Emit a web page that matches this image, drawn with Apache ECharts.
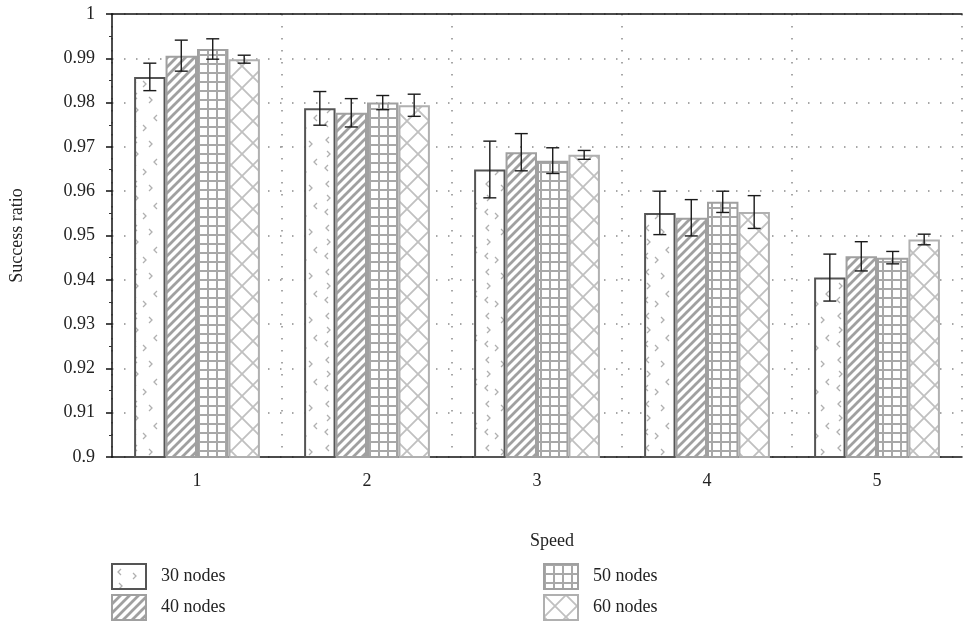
<!DOCTYPE html>
<html>
<head>
<meta charset="utf-8">
<script src="https://cdn.jsdelivr.net/npm/echarts@6/dist/echarts.min.js"></script>
<style>
  html, body { margin: 0; padding: 0; background: #fff; }
  #chart { width: 965px; height: 631px; }
</style>
</head>
<body>
<div id="chart"></div>
<script>
// Speed levels on the x axis
const categories = ['1', '2', '3', '4', '5'];
const seriesNames = ['30 nodes', '40 nodes', '50 nodes', '60 nodes'];

// Mean success ratio per speed level
const ratio30 = [0.9858, 0.9787, 0.9649, 0.9551, 0.9405];
const ratio40 = [0.9906, 0.9777, 0.9688, 0.9540, 0.9453];
const ratio50 = [0.9921, 0.9800, 0.9669, 0.9576, 0.9450];
const ratio60 = [0.9898, 0.9794, 0.9682, 0.9553, 0.9491];

// Half-width of the error bars
const err30 = [0.0031, 0.0038, 0.0064, 0.0049, 0.0053];
const err40 = [0.0035, 0.0032, 0.0042, 0.0041, 0.0033];
const err50 = [0.0023, 0.0016, 0.0029, 0.0024, 0.0014];
const err60 = [0.0009, 0.0025, 0.0010, 0.0037, 0.0012];

const yTicks = { min: 0.9, max: 1, step: 0.01 };

const FONT = '"Liberation Serif", "DejaVu Serif", serif';
const FS = 18;
const CAT_GAP = 0.26;

function tile(w, h, draw) {
  const c = document.createElement('canvas');
  c.width = w; c.height = h;
  const ctx = c.getContext('2d');
  ctx.fillStyle = '#fff';
  ctx.fillRect(0, 0, w, h);
  draw(ctx);
  return { image: c, repeat: 'repeat' };
}

// scattered small chevrons
const pat30 = tile(32, 44, ctx => {
  ctx.strokeStyle = '#b0b0b0';
  ctx.lineWidth = 1.3;
  const chev = (x, y, dir) => {
    ctx.beginPath();
    ctx.moveTo(x + 3 * dir, y - 3);
    ctx.lineTo(x, y);
    ctx.lineTo(x + 3 * dir, y + 3);
    ctx.stroke();
  };
  chev(6, 8, 1); chev(24, 12, -1);
  chev(10, 22, -1); chev(26, 30, 1);
  chev(5, 36, 1); chev(18, 40, -1);
});

// diagonal hatch
const pat40 = tile(9, 9, ctx => {
  ctx.strokeStyle = '#a0a0a0';
  ctx.lineWidth = 2.8;
  ctx.beginPath();
  ctx.moveTo(-2, 11); ctx.lineTo(11, -2);
  ctx.moveTo(-2, 2); ctx.lineTo(2, -2);
  ctx.moveTo(7, 11); ctx.lineTo(11, 7);
  ctx.stroke();
});

// square grid
const pat50 = tile(9, 9, ctx => {
  ctx.fillStyle = '#a8a8a8';
  ctx.fillRect(0, 0, 9, 2);
  ctx.fillRect(0, 0, 2, 9);
});

// diamond lattice
const pat60 = tile(22, 22, ctx => {
  ctx.strokeStyle = '#c0c0c0';
  ctx.lineWidth = 1.8;
  ctx.beginPath();
  ctx.moveTo(0, 0); ctx.lineTo(22, 22);
  ctx.moveTo(22, 0); ctx.lineTo(0, 22);
  ctx.stroke();
});

const means = [ratio30, ratio40, ratio50, ratio60];
const errs = [err30, err40, err50, err60];
const fills = [pat30, pat40, pat50, pat60];
const borders = ['#555555', '#a0a0a0', '#a0a0a0', '#b0b0b0'];

const barSeries = seriesNames.map((name, k) => ({
  name: name,
  type: 'bar',
  data: means[k],
  barGap: '0%',
  barCategoryGap: (CAT_GAP * 100) + '%',
  itemStyle: { color: fills[k], borderColor: borders[k], borderWidth: 2 },
  z: 2
}));

const errSeries = seriesNames.map((name, k) => ({
  name: 'err ' + name,
  type: 'custom',
  z: 5,
  data: categories.map((c, i) => [i, means[k][i] + errs[k][i], means[k][i] - errs[k][i]]),
  encode: { x: 0, y: [1, 2] },
  renderItem: (params, api) => {
    const band = api.size([1, 0])[0];
    const groupW = band * (1 - CAT_GAP);
    const barW = groupW / seriesNames.length;
    const off = -groupW / 2 + barW * (k + 0.5);
    const top = api.coord([api.value(0), api.value(1)]);
    const bot = api.coord([api.value(0), api.value(2)]);
    const x = top[0] + off;
    const cap = 6.5;
    const style = { stroke: '#1a1a1a', lineWidth: 1.4, fill: null };
    return {
      type: 'group',
      children: [
        { type: 'line', shape: { x1: x, y1: top[1], x2: x, y2: bot[1] }, style },
        { type: 'line', shape: { x1: x - cap, y1: top[1], x2: x + cap, y2: top[1] }, style },
        { type: 'line', shape: { x1: x - cap, y1: bot[1], x2: x + cap, y2: bot[1] }, style }
      ]
    };
  }
}));

const dotted = { color: '#8a8a8a', width: 1.5, type: [1.5, 10.5] };

function legendAt(name, left, top) {
  return {
    data: [name],
    left: left, top: top,
    padding: 0,
    orient: 'horizontal',
    icon: 'rect',
    itemWidth: 34, itemHeight: 25,
    selectedMode: false,
    textStyle: { fontFamily: FONT, fontSize: FS, color: '#222', padding: [0, 0, 0, 10] }
  };
}

const chart = echarts.init(document.getElementById('chart'), null, { renderer: 'canvas' });
chart.setOption({
  animation: false,
  backgroundColor: '#fff',
  grid: { left: 112, right: 3, top: 14, bottom: 174, containLabel: false, outerBoundsMode: 'none' },
  xAxis: [{
    type: 'category',
    data: categories,
    axisLine: { lineStyle: { color: '#111', width: 1.5 } },
    axisTick: { alignWithLabel: true, length: 6, lineStyle: { color: '#111', width: 1.5 } },
    axisLabel: { fontFamily: FONT, fontSize: FS, color: '#222', margin: 15 },
    splitLine: { show: true, lineStyle: dotted }
  }, {
    type: 'category',
    data: categories,
    position: 'top',
    axisLine: { lineStyle: { color: '#111', width: 1.5 } },
    axisTick: { show: false },
    axisLabel: { show: false }
  }],
  yAxis: {
    type: 'value',
    min: yTicks.min, max: yTicks.max, interval: yTicks.step,
    name: 'Success ratio',
    nameLocation: 'middle',
    nameGap: 86,
    nameTextStyle: { fontFamily: FONT, fontSize: FS, color: '#222' },
    axisLine: { show: true, lineStyle: { color: '#111', width: 1.5 } },
    axisTick: { show: true, length: 6, lineStyle: { color: '#111', width: 1.5 } },
    minorTick: { show: true, splitNumber: 2, length: 3, lineStyle: { color: '#333' } },
    axisLabel: {
      fontFamily: FONT, fontSize: FS, color: '#222', margin: 17,
      formatter: v => String(parseFloat(v.toFixed(2)))
    },
    splitLine: { show: true, lineStyle: dotted }
  },
  legend: [
    legendAt('30 nodes', 111, 563),
    legendAt('40 nodes', 111, 594),
    legendAt('50 nodes', 543, 563),
    legendAt('60 nodes', 543, 594)
  ],
  graphic: [{
    type: 'text',
    left: 530, top: 532,
    style: { text: 'Speed', font: FS + 'px ' + FONT, fill: '#222' }
  }],
  series: barSeries.concat(errSeries)
});
</script>
</body>
</html>
